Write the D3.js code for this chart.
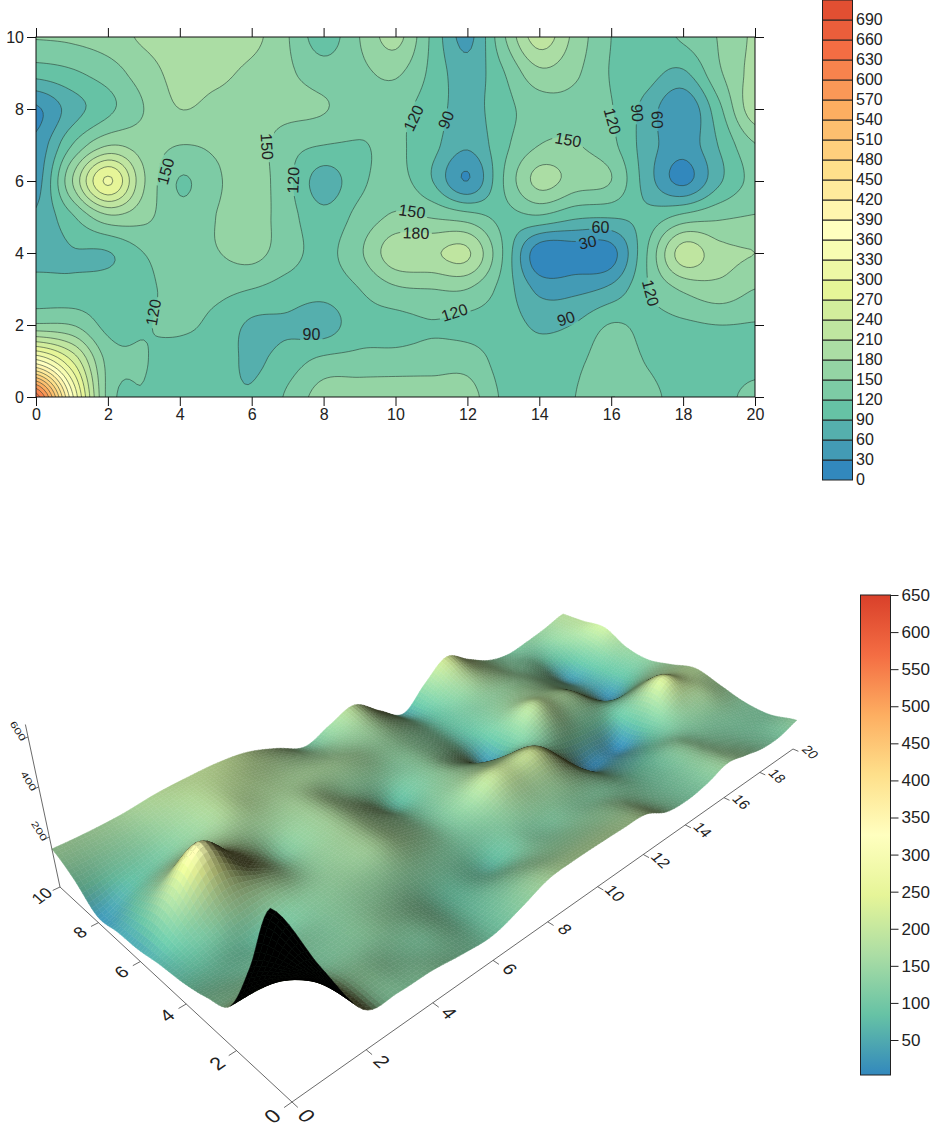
<!DOCTYPE html>
<html>
<head>
<meta charset="utf-8">
<script src="https://cdn.jsdelivr.net/npm/d3@7"></script>
<style>
  html, body { margin: 0; padding: 0; background: #fff; }
  svg { display: block; }
  text { font-family: "Liberation Sans", Arial, sans-serif; fill: #222; }
</style>
</head>
<body>
<div id="chart"></div>
<script>
// values, one row per y, x = 0..20
const xTicks = [0, 2, 4, 6, 8, 10, 12, 14, 16, 18, 20]
const yTicks = [0, 2, 4, 6, 8, 10]
const row0 = [650, 370, 140, 118, 115, 100, 93, 125, 165, 172, 172, 170, 165, 115, 105, 120, 150, 130, 108, 108, 132]
const row1 = [370, 270, 140, 122, 108, 105, 85, 105, 128, 130, 132, 135, 137, 108, 100, 112, 138, 118, 105, 105, 108]
const row2 = [155, 150, 112, 118, 125, 112, 85, 85, 75, 108, 110, 118, 112, 105, 85, 92, 122, 112, 115, 120, 118]
const row3 = [105, 100, 108, 115, 128, 128, 120, 108, 102, 120, 145, 150, 150, 108, 52, 52, 68, 118, 155, 170, 150]
const row4 = [78, 88, 88, 120, 135, 148, 160, 132, 112, 145, 200, 205, 215, 118, 10, 12, 18, 120, 225, 190, 180]
const row5 = [65, 115, 172, 158, 130, 150, 165, 132, 100, 130, 155, 148, 135, 112, 115, 95, 92, 100, 130, 145, 152]
const row6 = [45, 178, 305, 183, 118, 145, 165, 128, 75, 113, 132, 92, 29.9, 120, 190, 165, 150, 75, 22, 85, 130]
const row7 = [38, 120, 178, 165, 150, 155, 165, 132, 120, 118, 125, 100, 65, 112, 150, 152, 128, 75, 42, 92, 148]
const row8 = [25, 75, 112, 150, 180, 170, 165, 160, 152, 135, 130, 105, 78, 110, 135, 140, 122, 78, 33, 112, 200]
const row9 = [102, 115, 135, 165, 190, 188, 172, 155, 135, 143, 155, 113, 72, 118, 172, 155, 118, 102, 85, 145, 190]
const row10 = [152, 155, 165, 185, 195, 200, 190, 152, 105, 150, 190, 115, 52, 145, 225, 170, 120, 105, 125, 152, 185]
const rows = [row0, row1, row2, row3, row4, row5, row6, row7, row8, row9, row10]

const levels = d3.range(0, 720, 30)
const palette = ['#3288bd', '#66c2a5', '#abdda4', '#e6f598', '#ffffbf', '#fee08b', '#fdae61', '#f46d43', '#d9402a']

// labels that sit on the contour lines
const labelValues = [120, 150, 150, 120, 90, 120, 90, 150, 180, 120, 150, 120, 90, 60, 60, 30, 90, 120]
const labelX = [3.26, 3.6, 6.43, 7.15, 7.66, 10.5, 11.4, 10.46, 10.57, 11.64, 14.8, 16.04, 16.73, 17.29, 15.7, 15.34, 14.74, 17.1]
const labelY = [2.35, 6.27, 6.96, 6.02, 1.75, 7.75, 7.7, 5.16, 4.56, 2.35, 7.15, 7.66, 7.89, 7.7, 4.71, 4.3, 2.18, 2.89]
const labelAngle = [-80, -75, 86, -88, 0, -65, -68, 8, 2, -18, 10, 75, 86, 88, 0, -12, -18, 75]

const barTicks = [50, 100, 150, 200, 250, 300, 350, 400, 450, 500, 550, 600, 650]
const zTicks = [200, 400, 600]

const width = 931
const height = 1133
const margin = { top: 37, left: 36, right: 176, bottom: 736 }

const svg = d3
  .select('#chart')
  .append('svg')
  .attr('width', width)
  .attr('height', height)

const ramp = d3.scaleLinear()
  .domain(palette.map((d, i) => i / (palette.length - 1)))
  .range(palette)
  .clamp(true)

// catmull-rom through the read values, just to draw smooth like the original
function cubic(a, b, c, d, t) {
  return 0.5 * (2 * b + (c - a) * t + (2 * a - 5 * b + 4 * c - d) * t * t + (3 * b - a - 3 * c + d) * t * t * t)
}

function surface(x, y) {
  const nx = rows[0].length - 1
  const ny = rows.length - 1
  const i = Math.min(Math.floor(x), nx - 1)
  const j = Math.min(Math.floor(y), ny - 1)
  const at = (a, b) => rows[Math.max(0, Math.min(ny, b))][Math.max(0, Math.min(nx, a))]
  const col = k => cubic(at(i + k, j - 1), at(i + k, j), at(i + k, j + 1), at(i + k, j + 2), y - j)
  return cubic(col(-1), col(0), col(1), col(2), x - i)
}

/* ---------- contour map ---------- */

const xScale = d3.scaleLinear().domain([0, 20]).range([margin.left, width - margin.right])
const yScale = d3.scaleLinear().domain([0, 10]).range([height - margin.bottom, margin.top])

const fine = 10
const n = 20 * fine + 1
const m = 10 * fine + 1
const fineValues = new Array(n * m)
for (let j = 0; j < m; j++) {
  for (let i = 0; i < n; i++) {
    fineValues[i + j * n] = surface(i / fine, j / fine)
  }
}

const contours = d3.contours().size([n, m]).thresholds(levels)(fineValues)

const gridPath = d3.geoPath().projection(d3.geoTransform({
  point: function(x, y) {
    this.stream.point(xScale((x - 0.5) / fine), yScale((y - 0.5) / fine))
  }
}))

svg.append('clipPath').attr('id', 'plot-clip')
  .append('rect')
  .attr('x', xScale(0))
  .attr('y', yScale(10))
  .attr('width', xScale(20) - xScale(0))
  .attr('height', yScale(0) - yScale(10))

const mask = svg.append('mask').attr('id', 'label-gaps').attr('maskUnits', 'userSpaceOnUse')
  .attr('x', 0).attr('y', 0).attr('width', width).attr('height', height)
mask.append('rect').attr('width', width).attr('height', height).attr('fill', '#fff')
mask.selectAll('rect.gap')
  .data(labelValues)
  .enter()
  .append('rect')
  .attr('class', 'gap')
  .attr('x', d => -String(d).length * 4.6 - 2)
  .attr('y', -8)
  .attr('width', d => String(d).length * 9.2 + 4)
  .attr('height', 16)
  .attr('fill', '#000')
  .attr('transform', (d, i) => `translate(${xScale(labelX[i])},${yScale(labelY[i])}) rotate(${labelAngle[i]})`)

const plot = svg.append('g').attr('clip-path', 'url(#plot-clip)')

plot.append('g')
  .selectAll('path')
  .data(contours)
  .enter()
  .append('path')
  .attr('d', gridPath)
  .attr('fill', d => ramp(d.value / 720))

plot.append('g')
  .attr('mask', 'url(#label-gaps)')
  .selectAll('path')
  .data(contours)
  .enter()
  .append('path')
  .attr('d', gridPath)
  .attr('fill', 'none')
  .attr('stroke', '#2b3f38')
  .attr('stroke-width', 0.6)

svg.append('g')
  .selectAll('text')
  .data(labelValues)
  .enter()
  .append('text')
  .attr('text-anchor', 'middle')
  .attr('dy', '0.36em')
  .attr('font-size', 16)
  .attr('transform', (d, i) => `translate(${xScale(labelX[i])},${yScale(labelY[i])}) rotate(${labelAngle[i]})`)
  .text(d => d)

svg.append('rect')
  .attr('x', xScale(0))
  .attr('y', yScale(10))
  .attr('width', xScale(20) - xScale(0))
  .attr('height', yScale(0) - yScale(10))
  .attr('fill', 'none')
  .attr('stroke', '#111')

const axisStyle = g => {
  g.select('.domain').remove()
  g.selectAll('line').attr('stroke', '#111')
  g.selectAll('text').attr('font-size', 16).attr('fill', '#222')
}

svg.append('g')
  .attr('transform', `translate(0,${yScale(0)})`)
  .call(d3.axisBottom(xScale).tickValues(xTicks).tickSize(9).tickPadding(3))
  .call(axisStyle)
svg.append('g')
  .attr('transform', `translate(0,${yScale(10)})`)
  .call(d3.axisTop(xScale).tickValues(xTicks).tickSize(9).tickFormat(''))
  .call(axisStyle)
svg.append('g')
  .attr('transform', `translate(${xScale(0)},0)`)
  .call(d3.axisLeft(yScale).tickValues(yTicks).tickSize(9).tickPadding(3))
  .call(axisStyle)
svg.append('g')
  .attr('transform', `translate(${xScale(20)},0)`)
  .call(d3.axisRight(yScale).tickValues(yTicks).tickSize(9).tickFormat(''))
  .call(axisStyle)

/* ---------- stepped legend ---------- */

const legendScale = d3.scaleLinear().domain([0, 720]).range([480, 0])

const legend = svg.append('g')
legend.selectAll('rect')
  .data(levels)
  .enter()
  .append('rect')
  .attr('x', 822.5)
  .attr('y', d => legendScale(d + 30))
  .attr('width', 30)
  .attr('height', d => legendScale(d) - legendScale(d + 30))
  .attr('fill', d => ramp(d / 720))
  .attr('stroke', '#222')
  .attr('stroke-width', 1)
legend.selectAll('text')
  .data(levels)
  .enter()
  .append('text')
  .attr('x', 856)
  .attr('y', d => legendScale(d) - 1)
  .attr('dy', '0.36em')
  .attr('font-size', 16)
  .text(d => d)

/* ---------- 3d surface ---------- */

// perspective floor plane, then z leans away from a vanishing point under the page
const origin3d = [292, 1102]
const xAxisVec = [501, -353]
const yAxisVec = [-232, -215]
const xPersp = 0.564
const yPersp = 0.257
const vanish = [500, 2952]
const zPx = 0.3

function floorW(x, y) {
  return 1 + xPersp * x / 20 + yPersp * y / 10
}

function project(x, y, z) {
  const u = x / 20
  const v = y / 10
  const w = floorW(x, y)
  const bx = origin3d[0] + (xAxisVec[0] * (1 + xPersp) * u + yAxisVec[0] * (1 + yPersp) * v) / w
  const by = origin3d[1] + (xAxisVec[1] * (1 + xPersp) * u + yAxisVec[1] * (1 + yPersp) * v) / w
  const dx = bx - vanish[0]
  const dy = by - vanish[1]
  const len = Math.hypot(dx, dy)
  const h = z * zPx / Math.pow(w, 0.7)
  return [bx + dx / len * h, by + dy / len * h]
}

const step = 0.125
const quads = []
for (const x of d3.range(0, 20 - 1e-6, step)) {
  for (const y of d3.range(0, 10 - 1e-6, step)) {
    quads.push({ x, y })
  }
}
quads.sort((a, b) => d3.descending(floorW(a.x, a.y), floorW(b.x, b.y)))

const light = [-0.74, -0.12, 0.66]
const darkTint = [45, 44, 24]
const slopeWindow = 0.45
const quadLine = d3.line().curve(d3.curveLinearClosed)

function quadCorners(q) {
  return [
    project(q.x, q.y, surface(q.x, q.y)),
    project(q.x + step, q.y, surface(q.x + step, q.y)),
    project(q.x + step, q.y + step, surface(q.x + step, q.y + step)),
    project(q.x, q.y + step, surface(q.x, q.y + step))
  ]
}

function quadColor(q) {
  const pts = quadCorners(q)
  if (d3.polygonArea(pts) < 0) return '#000'
  const cx = q.x + step / 2
  const cy = q.y + step / 2
  const z = surface(cx, cy)
  const x0 = Math.max(0, cx - slopeWindow)
  const x1 = Math.min(20, cx + slopeWindow)
  const y0 = Math.max(0, cy - slopeWindow)
  const y1 = Math.min(10, cy + slopeWindow)
  const gx = (surface(x1, cy) - surface(x0, cy)) / (x1 - x0) / 80
  const gy = (surface(cx, y1) - surface(cx, y0)) / (y1 - y0) / 80
  const len = Math.hypot(gx, gy, 1)
  const dot = (-gx * light[0] - gy * light[1] + light[2]) / len
  const shade = Math.max(0.05, 0.16 + 0.9 * dot)
  const c = d3.rgb(ramp(z / 650))
  if (shade >= 1) return d3.rgb(c.r * shade, c.g * shade, c.b * shade).formatHex()
  const mix = (v, t) => v * shade + t * (1 - shade)
  return d3.rgb(mix(c.r, darkTint[0]), mix(c.g, darkTint[1]), mix(c.b, darkTint[2])).formatHex()
}

svg.append('g')
  .selectAll('path')
  .data(quads)
  .enter()
  .append('path')
  .attr('d', d => quadLine(quadCorners(d)))
  .attr('fill', quadColor)
  .attr('stroke', quadColor)
  .attr('stroke-width', 0.5)

// floor axes
const axes3d = svg.append('g').attr('stroke', '#444').attr('fill', 'none').attr('stroke-width', 0.8)
const segment = d3.line()

axes3d.append('path').attr('d', segment([project(0, 0, 0), project(20, 0, 0)]))
axes3d.append('path').attr('d', segment([project(0, 0, 0), project(0, 10, 0)]))
axes3d.append('path').attr('d', segment([project(0, 10, 0), project(0, 10, 650)]))

axes3d.selectAll('path.xt')
  .data(xTicks)
  .enter()
  .append('path')
  .attr('class', 'xt')
  .attr('d', d => segment([project(d, 0, 0), project(d, -0.2, 0)]))
axes3d.selectAll('path.yt')
  .data(yTicks)
  .enter()
  .append('path')
  .attr('class', 'yt')
  .attr('d', d => segment([project(0, d, 0), project(-0.2, d, 0)]))
axes3d.selectAll('path.zt')
  .data(zTicks)
  .enter()
  .append('path')
  .attr('class', 'zt')
  .attr('d', d => segment([project(0, 10, d), project(-0.2, 10, d)]))

// tick labels lie flat on the floor plane
function flatText(at, right, down, scale) {
  const r = Math.hypot(right[0], right[1])
  const s = Math.hypot(down[0], down[1])
  return `matrix(${right[0] / r * scale},${right[1] / r * scale},${down[0] / s * scale},${down[1] / s * scale},${at[0]},${at[1]})`
}

svg.append('g')
  .selectAll('text')
  .data(xTicks)
  .enter()
  .append('text')
  .attr('text-anchor', 'middle')
  .attr('dy', '0.36em')
  .attr('font-size', 21)
  .attr('transform', d => flatText(project(d * 1.012, -0.5, 0), [-yAxisVec[0], -yAxisVec[1]], [-xAxisVec[0], -xAxisVec[1]], 1 / floorW(d, 0)))
  .text(d => d)

svg.append('g')
  .selectAll('text')
  .data(yTicks)
  .enter()
  .append('text')
  .attr('text-anchor', 'middle')
  .attr('dy', '0.36em')
  .attr('font-size', 21)
  .attr('transform', d => flatText(project(-0.5, d, 0), xAxisVec, [-yAxisVec[0], -yAxisVec[1]], 1 / floorW(0, d)))
  .text(d => d)

svg.append('g')
  .selectAll('text')
  .data(zTicks)
  .enter()
  .append('text')
  .attr('text-anchor', 'middle')
  .attr('dy', '0.36em')
  .attr('font-size', 13)
  .attr('transform', d => {
    const p = project(0, 10, d)
    return `translate(${p[0] - 10},${p[1] - 6}) rotate(58) scale(1,0.7)`
  })
  .text(d => d)

/* ---------- continuous colour bar ---------- */

const barScale = d3.scaleLinear().domain([50, 650]).range([1040, 595])
const barLow = barScale.invert(1075)

const gradient = svg.append('linearGradient')
  .attr('id', 'bar-gradient')
  .attr('x1', 0).attr('x2', 0).attr('y1', 1).attr('y2', 0)
gradient.selectAll('stop')
  .data(palette)
  .enter()
  .append('stop')
  .attr('offset', (d, i) => i / (palette.length - 1))
  .attr('stop-color', d => d)

svg.append('rect')
  .attr('x', 860.5)
  .attr('y', barScale(650))
  .attr('width', 30)
  .attr('height', barScale(barLow) - barScale(650))
  .attr('fill', 'url(#bar-gradient)')
  .attr('stroke', '#222')

svg.append('g')
  .attr('transform', 'translate(890.5,0)')
  .call(d3.axisRight(barScale).tickValues(barTicks).tickSize(8).tickPadding(3))
  .call(g => {
    g.select('.domain').remove()
    g.selectAll('line').attr('stroke', '#222')
    g.selectAll('text').attr('font-size', 17).attr('fill', '#222')
  })
</script>
</body>
</html>
